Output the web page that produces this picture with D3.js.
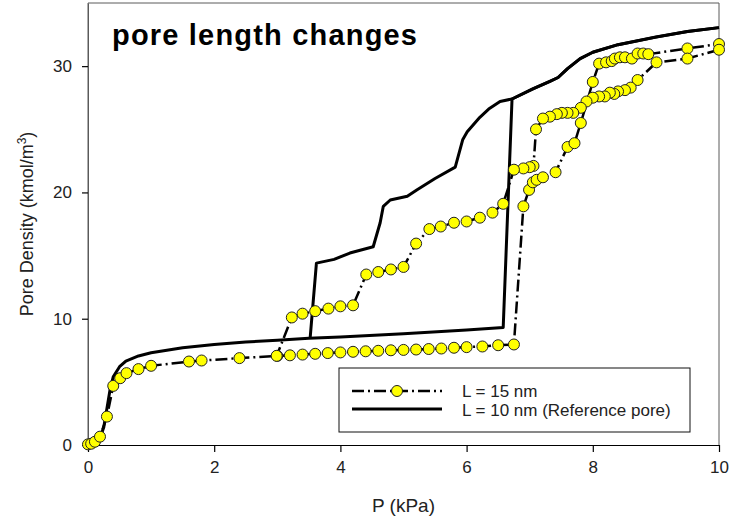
<!DOCTYPE html>
<html>
<head>
<meta charset="utf-8">
<script src="https://cdn.jsdelivr.net/npm/d3@7"></script>
<style>
  body { margin: 0; background: #fff; }
  text { font-family: Arial, "Liberation Sans", sans-serif; fill: #222; }
</style>
</head>
<body>
<div class="chart"></div>
<script>
// reference pore L = 10 nm, [P (kPa), density]
const refAdsorption = [[0,0],[0.1,0.2],[0.2,0.7],[0.25,1.4],[0.3,2.9],[0.35,4.4],[0.4,5.4],[0.5,6.2],[0.6,6.65],[0.8,7.05],[1.0,7.3],[1.5,7.7],[2.0,7.95],[2.5,8.15],[3.0,8.3],[3.5,8.45],[4.0,8.55],[5.0,8.8],[6.0,9.1],[6.58,9.3],[6.72,27.4],[7.05,28.2],[7.32,28.8],[7.45,29.1],[7.6,29.8],[7.8,30.6],[8.0,31.1],[8.4,31.7],[9.0,32.3],[9.5,32.75],[10,33.05]];
const refDesorption = [[10,33.05],[9.5,32.75],[9.0,32.3],[8.4,31.7],[8.0,31.1],[7.8,30.6],[7.6,29.8],[7.45,29.1],[7.32,28.8],[7.05,28.2],[6.72,27.4],[6.53,27.2],[6.35,26.6],[6.21,25.95],[6.01,24.8],[5.94,24.2],[5.82,22.0],[5.5,21.1],[5.21,20.2],[5.06,19.7],[4.79,19.4],[4.68,18.9],[4.63,17.6],[4.52,15.7],[4.15,15.2],[3.9,14.7],[3.62,14.4],[3.52,8.45]];

// L = 15 nm
const l15Adsorption = [[0,0.05],[0.05,0.1],[0.11,0.26],[0.19,0.66],[0.3,2.25],[0.4,4.68],[0.51,5.29],[0.61,5.69],[0.8,6.01],[1.0,6.27],[1.6,6.61],[1.8,6.69],[2.4,6.88],[3.0,7.06],[3.2,7.1],[3.4,7.16],[3.6,7.22],[3.8,7.28],[4.0,7.33],[4.2,7.38],[4.4,7.42],[4.6,7.46],[4.8,7.5],[5.0,7.53],[5.2,7.56],[5.4,7.6],[5.6,7.64],[5.8,7.7],[6.0,7.75],[6.25,7.8],[6.5,7.9],[6.75,7.96],[6.9,18.9],[6.99,20.2],[7.05,20.8],[7.11,21.0],[7.21,21.2],[7.41,21.6],[7.6,23.6],[7.71,23.9],[7.81,25.5],[8.0,28.75],[8.1,30.2],[8.21,30.3],[8.3,30.4],[8.35,30.6],[8.43,30.7],[8.51,30.7],[8.62,30.6],[8.71,31.0],[8.8,31.0],[8.88,30.95],[9.5,31.4],[10,31.75]];
const l15Desorption = [[10,31.3],[9.5,30.6],[9.01,30.3],[8.71,28.9],[8.6,28.3],[8.51,28.1],[8.4,28.0],[8.34,27.8],[8.27,27.9],[8.19,27.6],[8.1,27.6],[8.0,27.5],[7.9,27.2],[7.81,26.7],[7.69,26.3],[7.6,26.3],[7.51,26.3],[7.43,26.2],[7.32,26.0],[7.21,25.85],[7.1,25.0],[7.06,22.1],[7.0,22.0],[6.9,21.9],[6.75,21.8],[6.58,19.1],[6.41,18.4],[6.21,18.0],[6.0,17.7],[5.8,17.6],[5.59,17.3],[5.41,17.1],[5.2,15.95],[5.0,14.1],[4.8,13.9],[4.6,13.7],[4.41,13.5],[4.2,11.06],[4.0,10.98],[3.81,10.8],[3.6,10.6],[3.4,10.4],[3.23,10.1],[2.99,7.06]];

const xTicks = [0, 2, 4, 6, 8, 10];
const yTicks = [0, 10, 20, 30];
const legendLabels = ["L = 15 nm", "L = 10 nm (Reference pore)"];

const width = 730, height = 524;
const plotLeft = 88, plotRight = 719, plotTop = 3, plotBottom = 445;

const svg = d3.select('.chart').append('svg')
    .attr('width', width)
    .attr('height', height);

const x = d3.scaleLinear().domain([0, 10]).range([plotLeft, plotRight]);
const y = d3.scaleLinear().domain([0, 35]).range([plotBottom, plotTop]);

// frame (left/top/right grey, bottom axis black)
svg.append('path')
    .attr('d', `M${plotLeft},${plotBottom}V${plotTop}H${plotRight}V${plotBottom}`)
    .attr('fill', 'none')
    .attr('stroke', '#5a5a5a')
    .attr('stroke-width', 1);

// axes
const xAxis = svg.append('g')
    .attr('transform', `translate(0,${plotBottom})`)
    .call(d3.axisBottom(x).tickValues(xTicks).tickSize(7).tickPadding(9).tickSizeOuter(0));
const yAxis = svg.append('g')
    .attr('transform', `translate(${plotLeft},0)`)
    .call(d3.axisLeft(y).tickValues(yTicks).tickSize(6).tickPadding(10).tickSizeOuter(0));

[xAxis, yAxis].forEach(a => {
    a.select('.domain').attr('stroke', '#000').attr('stroke-width', 1.2);
    a.selectAll('.tick line').attr('stroke', '#000').attr('stroke-width', 1.2);
    a.selectAll('.tick text')
        .attr('fill', '#222')
        .style('font-size', '17px')
        .style('font-family', 'Arial, "Liberation Sans", sans-serif');
});
yAxis.select('.domain').attr('stroke', '#5a5a5a').attr('stroke-width', 1);

const line = d3.line().x(d => x(d[0])).y(d => y(d[1]));

// black reference curve
[refAdsorption, refDesorption].forEach(data => {
    svg.append('path')
        .datum(data)
        .attr('d', line)
        .attr('fill', 'none')
        .attr('stroke', '#000')
        .attr('stroke-width', 3)
        .attr('stroke-linejoin', 'round');
});

// dash-dot L = 15 nm curve
[l15Adsorption, l15Desorption].forEach(data => {
    svg.append('path')
        .datum(data)
        .attr('d', line)
        .attr('fill', 'none')
        .attr('stroke', '#000')
        .attr('stroke-width', 2.5)
        .attr('stroke-dasharray', '12,4,2,4');
});

svg.append('g').selectAll('circle')
    .data(l15Adsorption.concat(l15Desorption))
    .join('circle')
    .attr('cx', d => x(d[0]))
    .attr('cy', d => y(d[1]))
    .attr('r', 5.5)
    .attr('fill', '#ffff00')
    .attr('stroke', '#222')
    .attr('stroke-width', 1);

// title
svg.append('text')
    .attr('x', 112)
    .attr('y', 45)
    .attr('textLength', 305)
    .attr('lengthAdjust', 'spacing')
    .style('font-size', '29px')
    .style('font-weight', 'bold')
    .style('fill', '#000')
    .text('pore length changes');

// axis labels
svg.append('text')
    .attr('x', (plotLeft + plotRight) / 2)
    .attr('y', 512)
    .attr('text-anchor', 'middle')
    .style('font-size', '19px')
    .text('P (kPa)');

const yLabel = svg.append('text')
    .attr('transform', `translate(33,${(plotTop + plotBottom) / 2}) rotate(-90)`)
    .attr('text-anchor', 'middle')
    .style('font-size', '18px');
yLabel.append('tspan').text('Pore Density (kmol/m');
yLabel.append('tspan').attr('dy', -7).style('font-size', '12px').text('3');
yLabel.append('tspan').attr('dy', 7).text(')');

// legend
const legend = svg.append('g');
legend.append('rect')
    .attr('x', 339).attr('y', 368)
    .attr('width', 351).attr('height', 64)
    .attr('fill', '#fff')
    .attr('stroke', '#111')
    .attr('stroke-width', 1);

legend.append('line')
    .attr('x1', 352).attr('x2', 442)
    .attr('y1', 391).attr('y2', 391)
    .attr('stroke', '#000')
    .attr('stroke-width', 2.5)
    .attr('stroke-dasharray', '12,4,2,4');
legend.append('circle')
    .attr('cx', 397).attr('cy', 391).attr('r', 5.5)
    .attr('fill', '#ffff00').attr('stroke', '#222');
legend.append('line')
    .attr('x1', 352).attr('x2', 442)
    .attr('y1', 409).attr('y2', 409)
    .attr('stroke', '#000')
    .attr('stroke-width', 3);

legend.selectAll('text.lab')
    .data(legendLabels)
    .join('text')
    .attr('class', 'lab')
    .attr('x', 462)
    .attr('y', (d, i) => 397 + i * 19)
    .style('font-size', '17px')
    .text(d => d);
</script>
</body>
</html>
